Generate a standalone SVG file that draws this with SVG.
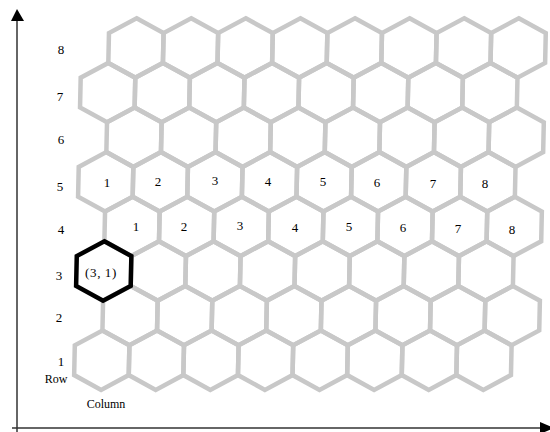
<svg xmlns="http://www.w3.org/2000/svg" xmlns:xlink="http://www.w3.org/1999/xlink" width="550" height="432" viewBox="0 0 550 432">
<style>
.hx{fill:none;stroke:#c8c8c8;stroke-width:4.5;stroke-linejoin:miter}
.sel{fill:none;stroke:#000;stroke-width:4.5;stroke-linejoin:miter}
.t{font-family:"Liberation Serif","Times New Roman",serif;font-size:13px;fill:#000;text-anchor:middle}
.w{font-size:12px}
.ax{stroke:#333;stroke-width:1.5;fill:none}
</style>
<defs>
<polygon id="hex" points="0,-29.7 27.3,-14.9 27.3,14.9 0,29.7 -27.3,14.9 -27.3,-14.9"/>
</defs>
<rect width="550" height="432" fill="#fff"/>
<g id="grid" transform="translate(1,0) skewX(-1.26)">
<g id="row8" class="hx">
<use id="hex-8-1" href="#hex" x="136" y="48"/><use id="hex-8-2" href="#hex" x="190.6" y="48"/><use id="hex-8-3" href="#hex" x="245.2" y="48"/><use id="hex-8-4" href="#hex" x="299.8" y="48"/><use id="hex-8-5" href="#hex" x="354.4" y="48"/><use id="hex-8-6" href="#hex" x="409" y="48"/><use id="hex-8-7" href="#hex" x="463.6" y="48"/><use id="hex-8-8" href="#hex" x="518.2" y="48"/>
</g>
<g id="row7" class="hx">
<use id="hex-7-1" href="#hex" x="108.7" y="92.6"/><use id="hex-7-2" href="#hex" x="163.3" y="92.6"/><use id="hex-7-3" href="#hex" x="217.9" y="92.6"/><use id="hex-7-4" href="#hex" x="272.5" y="92.6"/><use id="hex-7-5" href="#hex" x="327.1" y="92.6"/><use id="hex-7-6" href="#hex" x="381.7" y="92.6"/><use id="hex-7-7" href="#hex" x="436.3" y="92.6"/><use id="hex-7-8" href="#hex" x="490.9" y="92.6"/>
</g>
<g id="row6" class="hx">
<use id="hex-6-1" href="#hex" x="136" y="137.2"/><use id="hex-6-2" href="#hex" x="190.6" y="137.2"/><use id="hex-6-3" href="#hex" x="245.2" y="137.2"/><use id="hex-6-4" href="#hex" x="299.8" y="137.2"/><use id="hex-6-5" href="#hex" x="354.4" y="137.2"/><use id="hex-6-6" href="#hex" x="409" y="137.2"/><use id="hex-6-7" href="#hex" x="463.6" y="137.2"/><use id="hex-6-8" href="#hex" x="518.2" y="137.2"/>
</g>
<g id="row5" class="hx">
<use id="hex-5-1" href="#hex" x="108.7" y="181.8"/><use id="hex-5-2" href="#hex" x="163.3" y="181.8"/><use id="hex-5-3" href="#hex" x="217.9" y="181.8"/><use id="hex-5-4" href="#hex" x="272.5" y="181.8"/><use id="hex-5-5" href="#hex" x="327.1" y="181.8"/><use id="hex-5-6" href="#hex" x="381.7" y="181.8"/><use id="hex-5-7" href="#hex" x="436.3" y="181.8"/><use id="hex-5-8" href="#hex" x="490.9" y="181.8"/>
</g>
<g id="row4" class="hx">
<use id="hex-4-1" href="#hex" x="136" y="226.4"/><use id="hex-4-2" href="#hex" x="190.6" y="226.4"/><use id="hex-4-3" href="#hex" x="245.2" y="226.4"/><use id="hex-4-4" href="#hex" x="299.8" y="226.4"/><use id="hex-4-5" href="#hex" x="354.4" y="226.4"/><use id="hex-4-6" href="#hex" x="409" y="226.4"/><use id="hex-4-7" href="#hex" x="463.6" y="226.4"/><use id="hex-4-8" href="#hex" x="518.2" y="226.4"/>
</g>
<g id="row3" class="hx">
<use id="hex-3-2" href="#hex" x="163.3" y="271"/><use id="hex-3-3" href="#hex" x="217.9" y="271"/><use id="hex-3-4" href="#hex" x="272.5" y="271"/><use id="hex-3-5" href="#hex" x="327.1" y="271"/><use id="hex-3-6" href="#hex" x="381.7" y="271"/><use id="hex-3-7" href="#hex" x="436.3" y="271"/><use id="hex-3-8" href="#hex" x="490.9" y="271"/>
</g>
<g id="row2" class="hx">
<use id="hex-2-1" href="#hex" x="136" y="315.6"/><use id="hex-2-2" href="#hex" x="190.6" y="315.6"/><use id="hex-2-3" href="#hex" x="245.2" y="315.6"/><use id="hex-2-4" href="#hex" x="299.8" y="315.6"/><use id="hex-2-5" href="#hex" x="354.4" y="315.6"/><use id="hex-2-6" href="#hex" x="409" y="315.6"/><use id="hex-2-7" href="#hex" x="463.6" y="315.6"/><use id="hex-2-8" href="#hex" x="518.2" y="315.6"/>
</g>
<g id="row1" class="hx">
<use id="hex-1-1" href="#hex" x="108.7" y="360.2"/><use id="hex-1-2" href="#hex" x="163.3" y="360.2"/><use id="hex-1-3" href="#hex" x="217.9" y="360.2"/><use id="hex-1-4" href="#hex" x="272.5" y="360.2"/><use id="hex-1-5" href="#hex" x="327.1" y="360.2"/><use id="hex-1-6" href="#hex" x="381.7" y="360.2"/><use id="hex-1-7" href="#hex" x="436.3" y="360.2"/><use id="hex-1-8" href="#hex" x="490.9" y="360.2"/>
</g>
<g id="hex-3-1" class="sel"><use href="#hex" x="108.7" y="271"/></g>
</g>
<g id="labels" class="t">
<text x="107" y="187">1</text><text x="158" y="186">2</text><text x="215" y="185">3</text><text x="268" y="186">4</text><text x="323" y="186">5</text><text x="377" y="187">6</text><text x="433" y="188">7</text><text x="485" y="188">8</text>
<text x="136" y="231">1</text><text x="184" y="231">2</text><text x="240" y="230">3</text><text x="295" y="232">4</text><text x="349" y="231">5</text><text x="403" y="232">6</text><text x="458" y="233">7</text><text x="512" y="234">8</text>
<text x="101" y="277" letter-spacing="0.6">(3, 1)</text>
</g>
<g id="axis-labels" class="t">
<text x="61" y="54">8</text><text x="60" y="101">7</text><text x="61" y="144">6</text><text x="60" y="191">5</text><text x="61" y="234">4</text><text x="59" y="280">3</text><text x="59" y="322">2</text><text x="61" y="366">1</text>
<text class="w" x="56" y="383">Row</text><text class="w" x="106" y="408">Column</text>
</g>
<g id="connectors">
<line class="ax" x1="17" y1="432" x2="17" y2="18"/>
<polygon points="17,9 11,21 24,21" fill="#000"/>
<line class="ax" x1="12" y1="428" x2="542" y2="428"/>
<polygon points="540,422 540,434 554,428" fill="#000"/>
</g>
</svg>
